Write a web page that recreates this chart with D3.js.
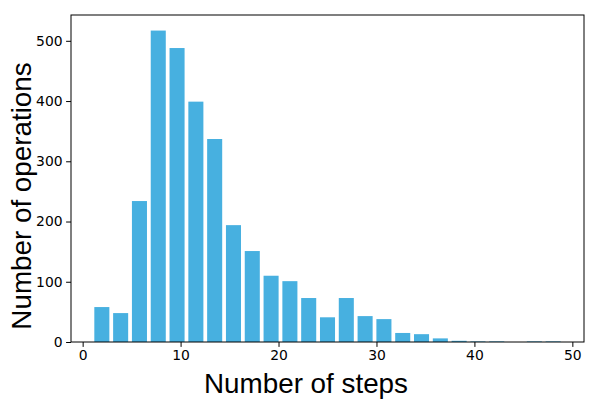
<!DOCTYPE html>
<html>
<head>
<meta charset="utf-8">
<script src="https://cdn.jsdelivr.net/npm/d3@7"></script>
<style>
  body { margin: 0; background: #fff; }
  svg { display: block; }
</style>
</head>
<body>
<svg id="chart" width="600" height="400"></svg>
<script>
// Histogram: 25 bins from 1 to 49 (bin width 1.92)
const binStart = 1;
const binEnd = 49;
const counts = [58, 48, 234, 517, 488, 399, 337, 194, 151, 110, 101, 73, 41, 73, 43, 38, 15, 13, 6, 2, 1, 1, 0, 1, 1];
const xTicks = [0, 10, 20, 30, 40, 50];
const yTicks = [0, 100, 200, 300, 400, 500];
const xLabel = "Number of steps";
const yLabel = "Number of operations";

const svg = d3.select("#chart");
const mLeft = 71, mRight = 584, mTop = 15, mBottom = 342;

const nBins = counts.length;
const binW = (binEnd - binStart) / nBins;
const rwidth = 0.8;
const bins = counts.map((c, i) => ({x0: binStart + i * binW, x1: binStart + (i + 1) * binW, c}));

const barMin = binStart + binW * (1 - rwidth) / 2;
const barMax = binEnd - binW * (1 - rwidth) / 2;
const pad = (barMax - barMin) * 0.05;
const x = d3.scaleLinear().domain([barMin - pad, barMax + pad]).range([mLeft, mRight]);
const y = d3.scaleLinear().domain([0, d3.max(counts) * 1.05]).range([mBottom, mTop]);

svg.append("g").selectAll("rect")
  .data(bins.filter(b => b.c > 0))
  .join("rect")
  .attr("x", d => x(d.x0 + binW * (1 - rwidth) / 2))
  .attr("width", d => x(d.x0 + binW * (1 + rwidth) / 2) - x(d.x0 + binW * (1 - rwidth) / 2))
  .attr("y", d => y(d.c))
  .attr("height", d => y(0) - y(d.c))
  .attr("fill", "#47b0e0");

const tickFont = "DejaVu Sans, sans-serif";
const xAxis = svg.append("g").attr("transform", `translate(0,${mBottom})`)
  .call(d3.axisBottom(x).tickValues(xTicks).tickSize(4.9).tickPadding(3.5));
const yAxis = svg.append("g").attr("transform", `translate(${mLeft},0)`)
  .call(d3.axisLeft(y).tickValues(yTicks).tickSize(4.9).tickPadding(3.5));
[xAxis, yAxis].forEach(a => {
  a.select(".domain").remove();
  a.selectAll("line").attr("stroke", "#000").attr("stroke-width", 1);
  a.selectAll("text").attr("font-family", tickFont).attr("font-size", "13.9px").attr("fill", "#000");
});

svg.append("rect")
  .attr("x", mLeft).attr("y", mTop)
  .attr("width", mRight - mLeft).attr("height", mBottom - mTop)
  .attr("fill", "none").attr("stroke", "#000").attr("stroke-width", 1);

svg.append("text")
  .attr("x", 306).attr("y", 393)
  .attr("text-anchor", "middle")
  .attr("font-family", "Liberation Sans, Arial, sans-serif")
  .attr("font-size", "27.8px")
  .text(xLabel);

svg.append("text")
  .attr("transform", `translate(${31},${196}) rotate(-90)`)
  .attr("text-anchor", "middle")
  .attr("font-family", "Liberation Sans, Arial, sans-serif")
  .attr("font-size", "27.8px")
  .text(yLabel);
</script>
</body>
</html>
